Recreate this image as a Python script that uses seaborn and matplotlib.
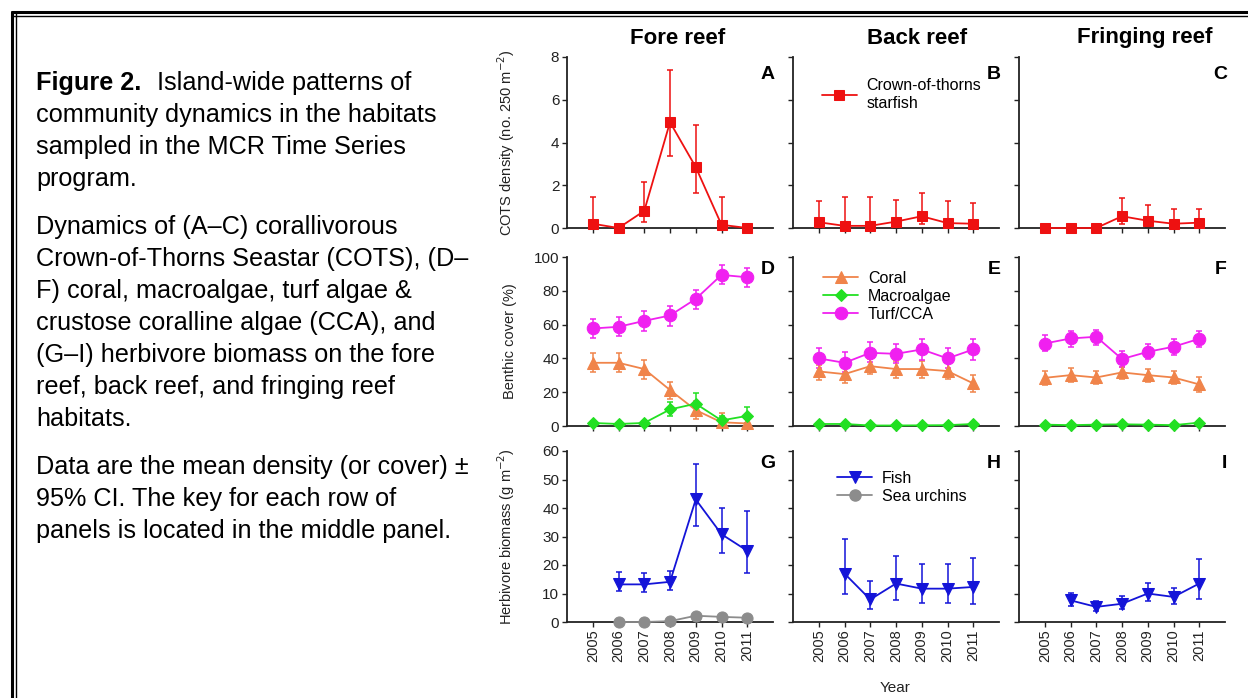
import numpy as np
import matplotlib
matplotlib.use("Agg")
import matplotlib.pyplot as plt
from matplotlib.lines import Line2D
import seaborn as sns

sns.set_style("ticks")
plt.rcParams['font.family'] = ['Liberation Sans', 'DejaVu Sans']
plt.rcParams['text.color'] = 'black'

# ---- data ----
years = [2005, 2006, 2007, 2008, 2009, 2010, 2011]
years_h = [2006, 2007, 2008, 2009, 2010, 2011]

# COTS density
cots_fore = [0.2, 0.0, 0.8, 4.95, 2.85, 0.15, 0.0]
cots_fore_lo = [0.0, 0.0, 0.3, 3.35, 1.65, 0.0, 0.0]
cots_fore_hi = [1.45, 0.0, 2.15, 7.4, 4.8, 1.45, 0.0]
cots_back = [0.27, 0.1, 0.1, 0.3, 0.55, 0.23, 0.2]
cots_back_lo = [0.0, 0.0, 0.0, 0.0, 0.2, 0.0, 0.0]
cots_back_hi = [1.28, 1.47, 1.47, 1.33, 1.64, 1.28, 1.17]
cots_fring = [0.0, 0.0, 0.0, 0.55, 0.34, 0.2, 0.25]
cots_fring_lo = [0.0, 0.0, 0.0, 0.2, 0.05, 0.0, 0.0]
cots_fring_hi = [0.0, 0.0, 0.0, 1.4, 1.06, 0.9, 0.9]

# benthic cover
turf_fore = [57.7, 58.7, 62.2, 65.4, 75.2, 89.4, 88.0]
turf_fore_lo = [52.2, 53.0, 56.5, 59.4, 69.5, 83.9, 82.5]
turf_fore_hi = [63.6, 64.4, 68.1, 71.0, 80.7, 95.3, 93.5]
coral_fore = [37.4, 37.4, 33.7, 21.3, 9.4, 2.2, 1.5]
coral_fore_lo = [31.7, 31.7, 28.1, 15.7, 4.0, 0.0, 0.0]
coral_fore_hi = [42.9, 42.9, 39.0, 26.2, 14.5, 7.9, 4.0]
macro_fore = [1.8, 1.2, 1.8, 9.8, 13.2, 3.3, 6.0]
macro_fore_lo = [0.8, 0.5, 0.8, 6.0, 7.0, 1.0, 2.0]
macro_fore_hi = [2.8, 2.0, 2.8, 14.0, 19.7, 6.0, 11.0]

turf_back = [40.0, 37.4, 43.3, 42.7, 45.3, 40.0, 45.3]
turf_back_lo = [34.4, 32.0, 37.6, 37.0, 39.0, 34.3, 39.0]
turf_back_hi = [46.3, 43.7, 49.6, 48.8, 51.2, 46.0, 51.2]
coral_back = [32.3, 30.7, 35.4, 33.7, 33.7, 32.5, 25.2]
coral_back_lo = [27.2, 25.2, 30.5, 28.5, 28.5, 27.6, 19.9]
coral_back_hi = [36.0, 34.6, 39.8, 38.4, 38.4, 37.0, 30.0]
macro_back = [1.2, 1.2, 0.3, 0.3, 0.4, 0.5, 1.2]
macro_back_lo = [0.7, 0.7, 0.1, 0.1, 0.2, 0.2, 0.7]
macro_back_hi = [1.8, 1.8, 0.6, 0.6, 0.7, 0.8, 1.8]

turf_fring = [48.8, 51.8, 52.8, 39.6, 43.9, 46.9, 51.6]
turf_fring_lo = [44.3, 46.9, 47.8, 35.0, 39.4, 42.3, 46.9]
turf_fring_hi = [53.7, 56.3, 57.1, 44.3, 48.4, 51.4, 56.3]
coral_fring = [28.5, 30.1, 28.7, 31.7, 30.1, 28.7, 24.6]
coral_fring_lo = [24.2, 26.2, 24.6, 27.6, 25.8, 24.6, 20.3]
coral_fring_hi = [32.5, 34.4, 32.7, 35.0, 34.0, 32.7, 28.7]
macro_fring = [0.8, 0.5, 0.8, 1.0, 0.8, 0.5, 2.0]
macro_fring_lo = [0.4, 0.2, 0.4, 0.5, 0.4, 0.2, 1.2]
macro_fring_hi = [1.2, 0.8, 1.2, 1.5, 1.2, 0.8, 2.8]

# herbivore biomass (2006-2011)
fish_fore = [13.2, 13.2, 14.1, 43.0, 30.8, 25.0]
fish_fore_lo = [10.9, 10.5, 11.4, 33.6, 24.3, 17.2]
fish_fore_hi = [17.5, 17.2, 17.9, 55.6, 39.9, 38.8]
urchin_fore = [0.0, 0.0, 0.3, 2.2, 1.8, 1.5]
urchin_fore_lo = [0.0, 0.0, 0.0, 1.5, 1.2, 0.9]
urchin_fore_hi = [0.0, 0.0, 0.6, 2.9, 2.4, 2.1]
fish_back = [17.0, 7.9, 13.5, 11.7, 11.7, 12.3]
fish_back_lo = [9.7, 4.7, 7.6, 6.7, 6.7, 6.4]
fish_back_hi = [29.1, 14.4, 23.1, 20.4, 20.4, 22.6]
fish_fring = [7.6, 5.3, 6.4, 10.0, 8.8, 13.5]
fish_fring_lo = [5.6, 3.9, 4.7, 7.4, 6.4, 8.2]
fish_fring_hi = [10.2, 7.3, 9.0, 13.7, 12.1, 22.0]

habitats = ['Fore reef', 'Back reef', 'Fringing reef']
letters = [['A', 'B', 'C'], ['D', 'E', 'F'], ['G', 'H', 'I']]
ylabels = ['COTS density (no. 250 m$^{-2}$)', 'Benthic cover (%)',
           'Herbivore biomass (g m$^{-2}$)']

RED = '#ee1111'
ORANGE = '#f0844a'
GREEN = '#22e022'
MAGENTA = '#f020f0'
BLUE = '#1414d8'
GREY = '#8c8c8c'

# style per series: (colour, marker, markersize, label)
sty = {
    'cots': (RED, 's', 7.5, 'Crown-of-thorns\nstarfish'),
    'coral': (ORANGE, '^', 8.5, 'Coral'),
    'macro': (GREEN, 'D', 6.5, 'Macroalgae'),
    'turf': (MAGENTA, 'o', 9, 'Turf/CCA'),
    'fish': (BLUE, 'v', 9, 'Fish'),
    'urchin': (GREY, 'o', 8, 'Sea urchins'),
}

rows = [
    [[('cots', years, cots_fore, cots_fore_lo, cots_fore_hi)],
     [('cots', years, cots_back, cots_back_lo, cots_back_hi)],
     [('cots', years, cots_fring, cots_fring_lo, cots_fring_hi)]],
    [[('coral', years, coral_fore, coral_fore_lo, coral_fore_hi),
      ('macro', years, macro_fore, macro_fore_lo, macro_fore_hi),
      ('turf', years, turf_fore, turf_fore_lo, turf_fore_hi)],
     [('coral', years, coral_back, coral_back_lo, coral_back_hi),
      ('macro', years, macro_back, macro_back_lo, macro_back_hi),
      ('turf', years, turf_back, turf_back_lo, turf_back_hi)],
     [('coral', years, coral_fring, coral_fring_lo, coral_fring_hi),
      ('macro', years, macro_fring, macro_fring_lo, macro_fring_hi),
      ('turf', years, turf_fring, turf_fring_lo, turf_fring_hi)]],
    [[('fish', years_h, fish_fore, fish_fore_lo, fish_fore_hi),
      ('urchin', years_h, urchin_fore, urchin_fore_lo, urchin_fore_hi)],
     [('fish', years_h, fish_back, fish_back_lo, fish_back_hi)],
     [('fish', years_h, fish_fring, fish_fring_lo, fish_fring_hi)]],
]

ylims = [(0, 8), (0, 100), (0, 60)]
yticks = [[0, 2, 4, 6, 8], [0, 20, 40, 60, 80, 100], [0, 10, 20, 30, 40, 50, 60]]

W, H = 1248, 698
fig = plt.figure(figsize=(W / 100, H / 100), dpi=100)

col_left = [567, 793, 1019]
ax_w = 206
row_top = [57, 257, 451]
row_bot = [228, 426, 622]
letter_y = [0.895, 0.925, 0.928]


def draw(ax, key, x, m, lo, hi):
    color, marker, ms, label = sty[key]
    m = np.array(m)
    yerr = [m - np.array(lo), np.array(hi) - m]
    ax.errorbar(x, m, yerr=yerr, fmt='none', ecolor=color, elinewidth=1.1,
                capsize=2.3, capthick=1.1, zorder=2, clip_on=False)
    sns.lineplot(x=x, y=m, ax=ax, color=color, marker=marker, markersize=ms,
                 markeredgecolor=color, linewidth=1.3, zorder=3, legend=False)
    ln = ax.lines[-1]
    ln.set_clip_on(False)
    ln.set_label(label)
    return ln


legend_anchor = [(0.14, 0.875), (0.146, 0.92), (0.214, 0.885)]

for r in range(3):
    for c in range(3):
        l = col_left[c] / W
        b = 1 - row_bot[r] / H
        h = (row_bot[r] - row_top[r]) / H
        ax = fig.add_axes([l, b, ax_w / W, h])
        handles = []
        for key, x, m, lo, hi in rows[r][c]:
            handles.append(draw(ax, key, x, m, lo, hi))
        ax.set_xlim(2004, 2012)
        ax.set_ylim(*ylims[r])
        ax.set_xticks(years)
        ax.set_yticks(yticks[r])
        sns.despine(ax=ax)
        for s in ['left', 'bottom']:
            ax.spines[s].set_linewidth(1.3)
            ax.spines[s].set_color('#222222')
        ax.tick_params(direction='out', length=3.5, width=1, colors='#222222',
                       labelsize=11, pad=2)
        ax.set_xlabel('')
        ax.set_ylabel('')
        if c == 0:
            ax.set_ylabel(ylabels[r], fontsize=10.5, color='#222222')
            ax.yaxis.set_label_coords(-0.245, 0.5)
        else:
            ax.set_yticklabels([])
        if r == 2:
            ax.set_xticklabels([str(y) for y in years], rotation=90,
                               fontsize=10.5)
        else:
            ax.set_xticklabels([])
        ax.text(1.01, letter_y[r], letters[r][c], transform=ax.transAxes,
                ha='right', va='center', fontsize=14, fontweight='bold')
        if c == 1:
            # key for the whole row sits in the middle panel
            if r == 2:
                handles.append(Line2D([], [], color=GREY, marker='o',
                                      markersize=8, lw=1.3,
                                      label=sty['urchin'][3]))
            ax.legend(handles=handles, loc='upper left',
                      bbox_to_anchor=legend_anchor[r],
                      frameon=False, fontsize=11.5, handlelength=2.2,
                      handletextpad=0.6, labelspacing=0.2, borderpad=0,
                      borderaxespad=0)

# column titles
title_x = [678, 917, 1145]
for t, x in zip(habitats, title_x):
    fig.text(x / W, 1 - 38 / H, t, ha='center', va='center', fontsize=16,
             fontweight='bold')

fig.text(895 / W, 1 - 688 / H, 'Year', ha='center', va='center', fontsize=11,
         color='#222222')

# caption text on the left
caption = [
    (None, 'community dynamics in the habitats'),
    (None, 'sampled in the MCR Time Series'),
    (None, 'program.'),
    ('gap', 'Dynamics of (A\u2013C) corallivorous'),
    (None, 'Crown-of-Thorns Seastar (COTS), (D\u2013'),
    (None, 'F) coral, macroalgae, turf algae &'),
    (None, 'crustose coralline algae (CCA), and'),
    (None, '(G\u2013I) herbivore biomass on the fore'),
    (None, 'reef, back reef, and fringing reef'),
    (None, 'habitats.'),
    ('gap', 'Data are the mean density (or cover) \u00b1'),
    (None, '95% CI. The key for each row of'),
    (None, 'panels is located in the middle panel.'),
]
fs = 18.2
x0 = 36 / W
yb = 90
fig.text(x0, 1 - yb / H, 'Figure 2.', fontsize=fs, fontweight='bold',
         va='baseline')
fig.text(157 / W, 1 - yb / H, 'Island-wide patterns of', fontsize=fs,
         va='baseline')
for flag, line in caption:
    yb += 48 if flag == 'gap' else 32
    fig.text(x0, 1 - yb / H, line, fontsize=fs, va='baseline')

# double frame round the figure
for yy, lw in [(12, 2.2), (16, 1.0)]:
    fig.add_artist(Line2D([12 / W, 1], [1 - yy / H, 1 - yy / H],
                          transform=fig.transFigure, color='black', lw=lw))
for xx, lw in [(12, 2.2), (16, 1.0)]:
    fig.add_artist(Line2D([xx / W, xx / W], [0, 1 - 12 / H],
                          transform=fig.transFigure, color='black', lw=lw))

fig.savefig('out.png', dpi=100)
